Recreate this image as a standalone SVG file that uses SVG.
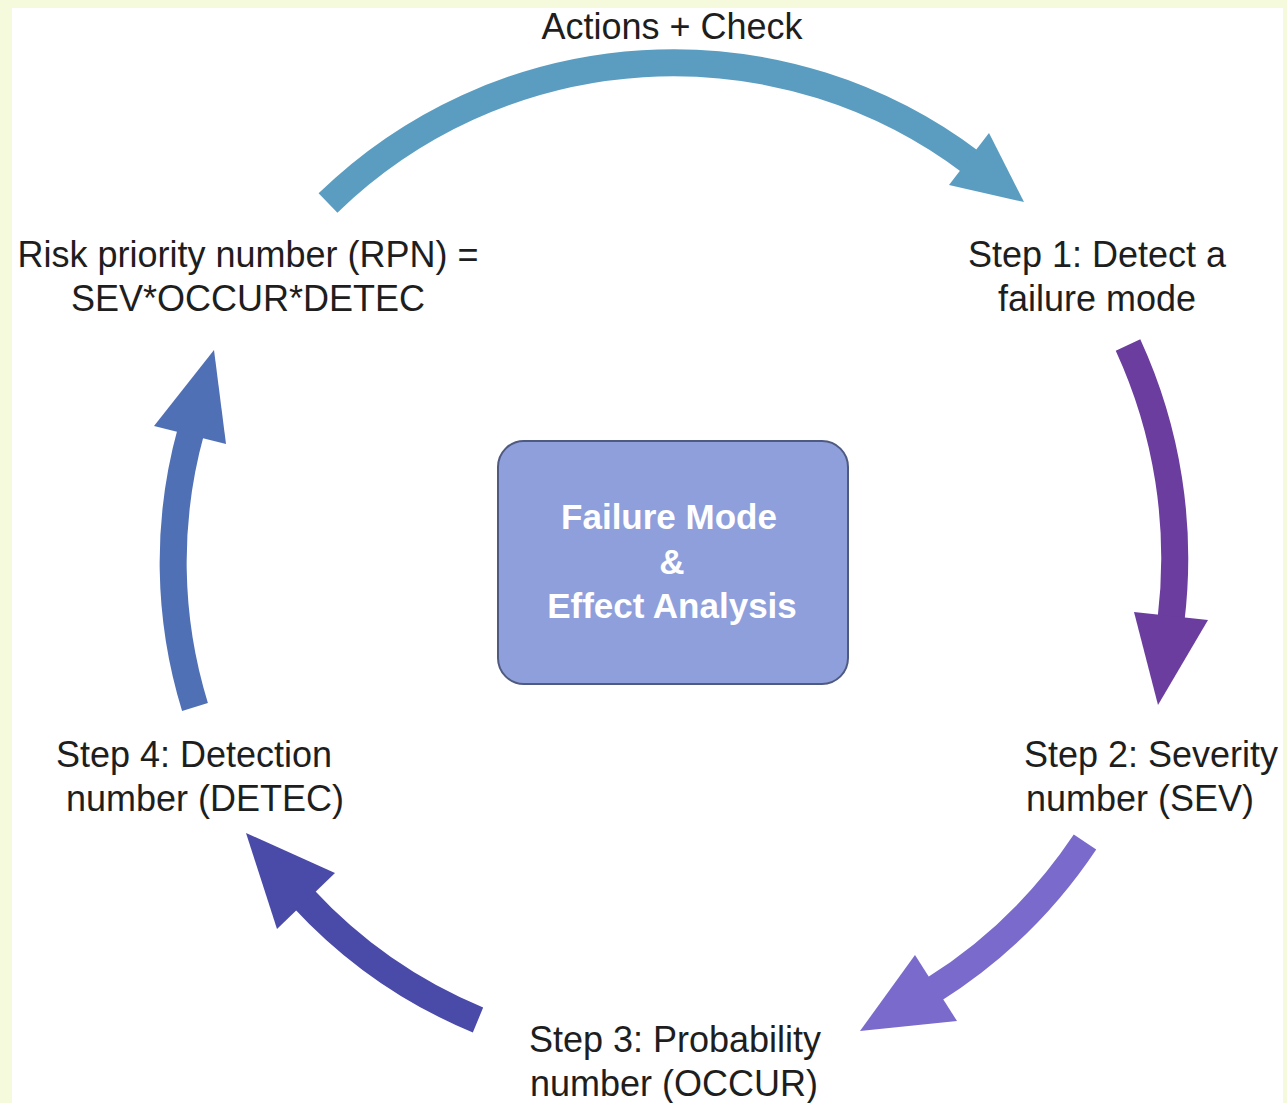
<svg xmlns="http://www.w3.org/2000/svg" width="1287" height="1103" viewBox="0 0 1287 1103">
<style>
.lbl{font-family:"Liberation Sans",Arial,sans-serif;font-size:36px;fill:#1e1e1e}
.ctr{font-family:"Liberation Sans",Arial,sans-serif;font-size:35px;font-weight:bold;fill:#ffffff;text-anchor:middle}
.shaft{fill:none;stroke-width:27;stroke-linecap:butt}
</style>
<rect x="0" y="0" width="1287" height="1103" fill="#f6fadc"/>
<rect x="12" y="8" width="1271" height="1095" fill="#ffffff"/>
<g id="connectors">
<g id="arrow-top">
<path class="shaft" stroke="#5b9dc1" d="M328,203 A495,495 0 0 1 972,163"/>
<polygon fill="#5b9dc1" points="989,133 949,185 1024,202"/>
</g>
<g id="arrow-right">
<path class="shaft" stroke="#6b3d9e" d="M1128,345 A510,510 0 0 1 1171,620"/>
<polygon fill="#6b3d9e" points="1208,620 1134,612 1158,705"/>
</g>
<g id="arrow-bottom-right">
<path class="shaft" stroke="#7a6acb" d="M1085,842 A508,508 0 0 1 933,990"/>
<polygon fill="#7a6acb" points="957,1021 915,955 860,1031"/>
</g>
<g id="arrow-bottom-left">
<path class="shaft" stroke="#4a4aa8" d="M478,1020 A497,497 0 0 1 303,898"/>
<polygon fill="#4a4aa8" points="277,929 335,873 246,833"/>
</g>
<g id="arrow-left">
<path class="shaft" stroke="#5070b5" d="M195,707 A491,491 0 0 1 191,431"/>
<polygon fill="#5070b5" points="154,426 226,444 214,350"/>
</g>
</g>
<g id="node-center">
<rect x="498" y="441" width="350" height="243" rx="26" fill="#8f9fdb" stroke="#4e5a80" stroke-width="2"/>
<text class="ctr" x="669" y="529">Failure Mode</text>
<text class="ctr" x="672" y="574">&amp;</text>
<text class="ctr" x="672" y="618">Effect Analysis</text>
</g>
<g id="node-actions">
<text class="lbl" x="672" y="39" text-anchor="middle">Actions + Check</text>
</g>
<g id="node-rpn">
<text class="lbl" x="248" y="267" text-anchor="middle">Risk priority number (RPN) =</text>
<text class="lbl" x="248" y="311" text-anchor="middle">SEV*OCCUR*DETEC</text>
</g>
<g id="node-step1">
<text class="lbl" x="1097" y="267" text-anchor="middle">Step 1: Detect a</text>
<text class="lbl" x="1097" y="311" text-anchor="middle">failure mode</text>
</g>
<g id="node-step2">
<text class="lbl" x="1151" y="767" text-anchor="middle">Step 2: Severity</text>
<text class="lbl" x="1140" y="811" text-anchor="middle">number (SEV)</text>
</g>
<g id="node-step3">
<text class="lbl" x="675" y="1052" text-anchor="middle">Step 3: Probability</text>
<text class="lbl" x="674" y="1096" text-anchor="middle">number (OCCUR)</text>
</g>
<g id="node-step4">
<text class="lbl" x="194" y="767" text-anchor="middle">Step 4: Detection</text>
<text class="lbl" x="205" y="811" text-anchor="middle">number (DETEC)</text>
</g>
</svg>
